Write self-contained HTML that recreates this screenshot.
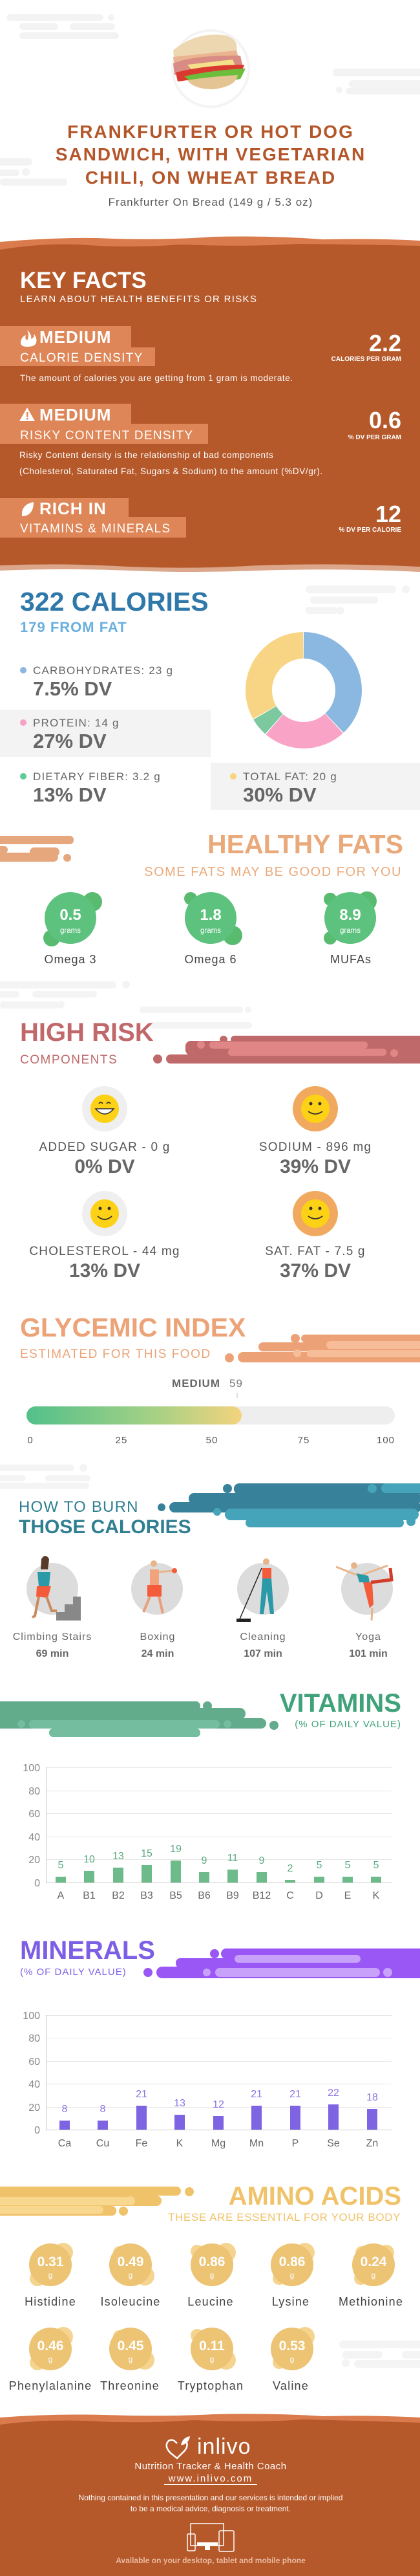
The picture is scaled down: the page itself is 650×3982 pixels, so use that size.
<!DOCTYPE html>
<html><head><meta charset="utf-8"><style>
html,body{margin:0;padding:0;background:#fff}
svg{display:block}
text{font-family:"Liberation Sans",sans-serif}
</style></head><body>
<svg width="650" height="3982" viewBox="0 0 650 3982" xmlns="http://www.w3.org/2000/svg">
<rect width="650" height="3982" fill="#fff"/>
<!-- top clouds -->
<g fill="#f3f3f3">
<rect x="10" y="22" width="150" height="10" rx="5"/><circle cx="172" cy="27" r="5"/>
<rect x="30" y="36" width="60" height="10" rx="5"/><rect x="108" y="36" width="70" height="10" rx="5"/>
<rect x="30" y="50" width="154" height="10" rx="5"/>
<rect x="515" y="106" width="150" height="12" rx="6"/><rect x="540" y="124" width="120" height="12" rx="6"/><circle cx="525" cy="139" r="5"/><rect x="535" y="136" width="120" height="10" rx="5"/>
<rect x="-10" y="244" width="60" height="12" rx="6"/><circle cx="40" cy="266" r="6"/><rect x="-10" y="262" width="40" height="10" rx="5"/><rect x="0" y="276" width="104" height="11" rx="5"/>
</g>
<!-- sandwich -->
<circle cx="326" cy="106" r="61" fill="#f4f4f4"/>
<circle cx="326" cy="106" r="57" fill="#fff"/>
<path d="M268 78 Q300 50 345 54 Q370 58 366 80 L270 96 Z" fill="#ecd7b0"/>
<path d="M268 88 L366 78 L370 92 L270 104 Z" fill="#e9b48f"/>
<path d="M268 98 Q300 85 372 86 L375 100 Q320 108 270 116 Z" fill="#d98c83"/>
<path d="M290 100 L360 92 L365 104 L300 112 Z" fill="#f4e08a"/>
<path d="M272 112 Q320 100 378 100 L374 112 Q320 120 275 126 Z" fill="#d9392e"/>
<path d="M285 118 Q330 108 380 106 L372 122 Q330 130 300 130 Z" fill="#6cbd3b"/>
<path d="M290 124 Q330 118 368 116 Q365 134 330 138 Q300 138 290 124Z" fill="#e5c493"/>
<!-- title -->
<g fill="#b5562a" font-weight="bold" font-size="28" text-anchor="middle" letter-spacing="2">
<text x="326" y="213">FRANKFURTER OR HOT DOG</text>
<text x="326" y="248">SANDWICH, WITH VEGETARIAN</text>
<text x="326" y="284">CHILI, ON WHEAT BREAD</text>
</g>
<text x="326" y="318" font-size="17" fill="#555" text-anchor="middle" letter-spacing="1">Frankfurter On Bread (149 g / 5.3 oz)</text>
<!-- brown band -->
<path d="M0 374 Q80 367 150 368 Q250 372 330 366 Q420 364 500 370 Q580 368 650 372 L650 400 L0 400Z" fill="#d97b4c"/>
<path d="M0 386 Q60 376 120 378 Q200 384 280 378 Q380 382 460 377 Q560 378 650 380 L650 880 L0 880Z" fill="#b5582a"/>
<path d="M0 874 Q100 870 200 876 Q300 880 400 874 Q520 870 650 876 L650 884 Q520 878 400 882 Q300 886 200 882 Q100 878 0 882Z" fill="#dba68a"/>
<text x="31" y="445" font-size="35" font-weight="bold" fill="#fff">KEY FACTS</text>
<text x="31" y="467" font-size="15" fill="#fff" letter-spacing="1.3">LEARN ABOUT HEALTH BENEFITS OR RISKS</text>
<g fill="#de8657">
<rect x="0" y="504" width="203" height="33"/><rect x="0" y="537" width="240" height="29"/>
<rect x="0" y="624" width="203" height="31"/><rect x="0" y="655" width="322" height="31"/>
<rect x="0" y="770" width="199" height="29"/><rect x="0" y="799" width="288" height="32"/>
</g>
<!-- icons -->
<path d="M42 510 Q50 518 48 524 Q54 522 52 516 Q58 522 56 530 Q54 536 42 536 Q31 536 32 528 Q34 520 40 518 Q38 524 42 526 Q46 520 42 510Z" fill="#fff"/>
<path d="M42 630 L54 651 L30 651Z" fill="#fff"/><rect x="41" y="637" width="2.5" height="8" fill="#de8657"/><rect x="41" y="646" width="2.5" height="2.5" fill="#de8657"/>
<path d="M34 798 Q32 780 52 776 Q52 796 36 798Z" fill="#fff"/>
<g fill="#fff" font-weight="bold" font-size="26" letter-spacing="1">
<text x="61" y="530">MEDIUM</text><text x="61" y="650">MEDIUM</text><text x="61" y="795">RICH  IN</text>
</g>
<g fill="#fff" font-size="19" letter-spacing="1.3">
<text x="31" y="559">CALORIE DENSITY</text><text x="31" y="679">RISKY CONTENT DENSITY</text><text x="31" y="823">VITAMINS &amp; MINERALS</text>
</g>
<g fill="#fff" font-weight="bold" text-anchor="end">
<text x="621" y="543" font-size="36">2.2</text><text x="621" y="558" font-size="10">CALORIES PER GRAM</text>
<text x="621" y="662" font-size="36">0.6</text><text x="621" y="679" font-size="10">% DV PER GRAM</text>
<text x="621" y="807" font-size="36">12</text><text x="621" y="822" font-size="10">% DV PER CALORIE</text>
</g>
<g fill="#fff" font-size="13.5" letter-spacing="0.6">
<text x="31" y="589">The amount of calories you are getting from 1 gram is moderate.</text>
<text x="30" y="708">Risky Content density is the relationship of bad components</text>
<text x="30" y="733">(Cholesterol, Saturated Fat, Sugars &amp; Sodium) to the amount (%DV/gr).</text>
</g>
<!-- calories -->
<g fill="#f4f4f4"><rect x="473" y="905" width="140" height="12" rx="6"/><circle cx="628" cy="911" r="6"/><rect x="480" y="922" width="105" height="11" rx="5"/><rect x="473" y="938" width="50" height="11" rx="5"/><circle cx="527" cy="944" r="6"/></g>
<text x="31" y="944" font-size="41" font-weight="bold" fill="#2e78aa">322 CALORIES</text>
<text x="31" y="977" font-size="22" font-weight="bold" fill="#6aafdf" letter-spacing="1">179 FROM FAT</text>
<rect x="0" y="1097" width="326" height="73" fill="#f3f3f3"/>
<rect x="326" y="1179" width="324" height="73" fill="#f3f3f3"/>
<circle cx="36" cy="1036" r="5" fill="#8ab8e0"/><circle cx="36" cy="1117" r="5" fill="#f7a1c4"/><circle cx="36" cy="1200" r="5" fill="#5fcb99"/><circle cx="361" cy="1200" r="5" fill="#f8d47f"/>
<g font-size="17" fill="#666" letter-spacing="1.2">
<text x="51" y="1042">CARBOHYDRATES: 23 g</text><text x="51" y="1123">PROTEIN: 14 g</text><text x="51" y="1206">DIETARY FIBER: 3.2 g</text><text x="376" y="1206">TOTAL FAT: 20 g</text>
</g>
<g font-size="31" font-weight="bold" fill="#666">
<text x="51" y="1075">7.5% DV</text><text x="51" y="1156">27% DV</text><text x="51" y="1239">13% DV</text><text x="376" y="1239">30% DV</text>
</g>
<g transform="rotate(-90 470 1067)" fill="none" stroke-width="41">
<circle cx="470" cy="1067" r="69.5" stroke="#8ab8e0" stroke-dasharray="165.8 500" stroke-dashoffset="0"/>
<circle cx="470" cy="1067" r="69.5" stroke="#f9a3c7" stroke-dasharray="100.7 500" stroke-dashoffset="-166.8"/>
<circle cx="470" cy="1067" r="69.5" stroke="#7cc9a0" stroke-dasharray="22.2 500" stroke-dashoffset="-268.5"/>
<circle cx="470" cy="1067" r="69.5" stroke="#f8d584" stroke-dasharray="144 500" stroke-dashoffset="-291.7"/>
</g>
<!-- healthy fats -->
<g fill="#e6a77c"><rect x="-10" y="1292" width="124" height="13" rx="6"/><rect x="-10" y="1308" width="22" height="11" rx="5"/><rect x="46" y="1310" width="46" height="14" rx="7"/><rect x="-10" y="1318" width="100" height="14" rx="7"/><circle cx="104" cy="1326" r="6"/></g>
<text x="624" y="1319" font-size="41" font-weight="bold" fill="#e9a97b" text-anchor="end">HEALTHY FATS</text>
<text x="622" y="1354" font-size="20" fill="#eba97a" text-anchor="end" letter-spacing="1.5">SOME FATS MAY BE GOOD FOR YOU</text>
<g fill="#58bb6f">
<circle cx="143" cy="1394" r="15"/><circle cx="80" cy="1450" r="13"/>
<circle cx="295" cy="1389" r="10"/><circle cx="360" cy="1446" r="15"/>
<circle cx="568" cy="1393" r="15"/><circle cx="511" cy="1390" r="10"/><circle cx="511" cy="1450" r="10"/>
</g>
<g fill="#5dc27e"><circle cx="109" cy="1419" r="40"/><circle cx="326" cy="1419" r="40"/><circle cx="542" cy="1419" r="40"/></g>
<g fill="#fff" text-anchor="middle"><g font-size="24" font-weight="bold"><text x="109" y="1422">0.5</text><text x="326" y="1422">1.8</text><text x="542" y="1422">8.9</text></g>
<g font-size="11.5"><text x="109" y="1442">grams</text><text x="326" y="1442">grams</text><text x="542" y="1442">grams</text></g></g>
<g font-size="18" fill="#444" text-anchor="middle" letter-spacing="1"><text x="109" y="1489">Omega 3</text><text x="326" y="1489">Omega 6</text><text x="543" y="1489">MUFAs</text></g>
<g fill="#f4f4f4"><rect x="-10" y="1517" width="190" height="11" rx="5"/><circle cx="195" cy="1522" r="6"/><rect x="-10" y="1532" width="40" height="10" rx="5"/><rect x="50" y="1532" width="100" height="10" rx="5"/><rect x="0" y="1548" width="90" height="11" rx="5"/><circle cx="94" cy="1553" r="6"/><rect x="216" y="1556" width="160" height="10" rx="5"/><circle cx="384" cy="1561" r="5"/><rect x="230" y="1580" width="160" height="10" rx="5"/></g>
<!-- high risk -->
<g fill="#c0696b"><rect x="357" y="1601" width="300" height="13" rx="6"/><circle cx="346" cy="1607" r="6"/><rect x="287" y="1609" width="370" height="22" rx="8"/><rect x="257" y="1630" width="400" height="14" rx="7"/><circle cx="244" cy="1637" r="7"/></g>
<g fill="#e08686"><rect x="324" y="1610" width="245" height="11" rx="5"/><circle cx="311" cy="1615" r="6"/><rect x="353" y="1621" width="245" height="11" rx="5"/><circle cx="610" cy="1628" r="6"/></g>
<text x="31" y="1609" font-size="40" font-weight="bold" fill="#c0686a">HIGH RISK</text>
<text x="31" y="1644" font-size="19" fill="#c0686a" letter-spacing="1.5">COMPONENTS</text>
<!-- smileys -->
<circle cx="162" cy="1714" r="35" fill="#efefef"/><circle cx="488" cy="1714" r="35" fill="#f1a95f"/>
<circle cx="162" cy="1876" r="35" fill="#efefef"/><circle cx="488" cy="1876" r="35" fill="#f1a95f"/>
<g fill="#fcd116"><circle cx="162" cy="1714" r="22"/><circle cx="488" cy="1714" r="22"/><circle cx="162" cy="1876" r="22"/><circle cx="488" cy="1876" r="22"/></g>
<g fill="#333"><circle cx="155" cy="1868" r="2.5"/><circle cx="169" cy="1868" r="2.5"/><circle cx="481" cy="1706" r="2.5"/><circle cx="495" cy="1706" r="2.5"/><circle cx="481" cy="1868" r="2.5"/><circle cx="495" cy="1868" r="2.5"/></g>
<g fill="none" stroke="#333" stroke-width="1.8"><path d="M151 1880 Q162 1890 173 1880"/><path d="M477 1718 Q488 1726 499 1718"/><path d="M477 1880 Q488 1888 499 1880"/><path d="M153 1706 q3 -4 6 0 M165 1706 q3 -4 6 0"/></g>
<path d="M148 1714 Q162 1730 176 1714Z" fill="#fff" stroke="#333" stroke-width="1.5"/>
<g font-size="19" fill="#555" text-anchor="middle" letter-spacing="1.2"><text x="162" y="1779">ADDED SUGAR - 0 g</text><text x="488" y="1779">SODIUM - 896 mg</text><text x="162" y="1940">CHOLESTEROL - 44 mg</text><text x="488" y="1940">SAT. FAT - 7.5 g</text></g>
<g font-size="30" font-weight="bold" fill="#666" text-anchor="middle"><text x="162" y="1813">0% DV</text><text x="488" y="1813">39% DV</text><text x="162" y="1974">13% DV</text><text x="488" y="1974">37% DV</text></g>
<!-- glycemic -->
<g fill="#eca276"><rect x="466" y="2063" width="200" height="12" rx="6"/><circle cx="457" cy="2069" r="7"/><rect x="400" y="2075" width="260" height="14" rx="7"/><rect x="368" y="2090" width="290" height="16" rx="8"/><circle cx="355" cy="2099" r="7"/></g>
<g fill="#f6bd98"><rect x="505" y="2073" width="150" height="12" rx="6"/><circle cx="460" cy="2092" r="6"/><rect x="475" y="2087" width="180" height="11" rx="5"/></g>
<text x="31" y="2066" font-size="41" font-weight="bold" fill="#eca378">GLYCEMIC INDEX</text>
<text x="31" y="2099" font-size="19" fill="#eca378" letter-spacing="1.5">ESTIMATED FOR THIS FOOD</text>
<text x="341" y="2144" font-size="17" font-weight="bold" fill="#666" text-anchor="end" letter-spacing="1">MEDIUM</text>
<text x="355" y="2144" font-size="17" fill="#777" letter-spacing="1">59</text>
<rect x="366.5" y="2153" width="1" height="8" fill="#bbb"/>
<defs><linearGradient id="gi" x1="0" x2="1"><stop offset="0" stop-color="#52c08a"/><stop offset="0.6" stop-color="#a6d185"/><stop offset="1" stop-color="#f3d37e"/></linearGradient></defs>
<rect x="41" y="2174" width="570" height="28" rx="14" fill="#eeeeee"/>
<rect x="41" y="2174" width="333" height="28" rx="14" fill="url(#gi)"/>
<g font-size="15" fill="#555" text-anchor="middle" letter-spacing="1"><text x="47" y="2231">0</text><text x="188" y="2231">25</text><text x="328" y="2231">50</text><text x="470" y="2231">75</text><text x="597" y="2231">100</text></g>
<!-- burn -->
<g fill="#f4f4f4"><rect x="-10" y="2264" width="125" height="10" rx="5"/><circle cx="129" cy="2269" r="6"/><rect x="-10" y="2280" width="50" height="10" rx="5"/><rect x="70" y="2280" width="70" height="10" rx="5"/><rect x="-10" y="2292" width="148" height="10" rx="5"/></g>
<g fill="#38819a"><rect x="362" y="2293" width="300" height="17" rx="8"/><circle cx="352" cy="2301" r="7"/><rect x="292" y="2308" width="360" height="17" rx="8"/><rect x="262" y="2322" width="390" height="16" rx="8"/><circle cx="250" cy="2330" r="6"/></g>
<g fill="#45a4b9"><rect x="590" y="2293" width="70" height="15" rx="7"/><circle cx="576" cy="2301" r="7"/><rect x="348" y="2332" width="300" height="18" rx="9"/><circle cx="336" cy="2337" r="6"/><rect x="380" y="2347" width="245" height="14" rx="7"/><circle cx="636" cy="2352" r="7"/></g>
<text x="29" y="2337" font-size="24" fill="#2f7f91" letter-spacing="1.2">HOW TO BURN</text>
<text x="29" y="2370" font-size="30" font-weight="bold" fill="#2f7f91">THOSE CALORIES</text>
<g fill="#dcdcdc"><circle cx="81" cy="2456" r="40"/><circle cx="243" cy="2456" r="40"/><circle cx="407" cy="2456" r="40"/><circle cx="568" cy="2456" r="40"/></g>
<!-- stairs -->
<path d="M43 2505 L125 2505 L125 2468 L113 2468 L113 2480 L100 2480 L100 2492 L87 2492 L87 2505Z" fill="#888"/>
<circle cx="70" cy="2414" r="6" fill="#e8b48a"/><path d="M64 2410 Q70 2400 76 2410 L74 2426 L63 2426Z" fill="#5a3b2a"/>
<path d="M58 2430 L78 2430 L76 2452 L60 2452Z" fill="#2a9aa8"/><path d="M57 2452 L79 2452 L74 2470 L56 2468Z" fill="#f45b3a"/>
<path d="M60 2468 L54 2498 L50 2500 M72 2468 L80 2490 L88 2490" stroke="#c98a5e" stroke-width="4" fill="none"/>
<!-- boxing -->
<circle cx="238" cy="2417" r="5" fill="#e8b48a"/><path d="M232 2426 L246 2426 L246 2450 L232 2450Z" fill="#f3a37c"/><path d="M246 2430 L268 2428" stroke="#e8b48a" stroke-width="3"/><circle cx="270" cy="2428" r="4" fill="#f45b3a"/>
<path d="M228 2450 L250 2450 L250 2468 L228 2468Z" fill="#f45b3a"/><path d="M232 2468 L222 2492 M246 2468 L252 2494" stroke="#e8a07a" stroke-width="4"/>
<!-- cleaning -->
<circle cx="412" cy="2414" r="5" fill="#e8b48a"/><path d="M406 2424 L420 2424 L420 2446 L406 2446Z" fill="#f45b3a"/><path d="M406 2440 L420 2440 L424 2495 L418 2495 L413 2460 L408 2495 L402 2495Z" fill="#2a9aa8"/>
<path d="M405 2424 L370 2505" stroke="#222" stroke-width="1.5"/><rect x="366" y="2502" width="22" height="5" fill="#222"/>
<!-- yoga -->
<circle cx="548" cy="2420" r="5" fill="#e8b48a"/><path d="M520 2422 L556 2436 L600 2420" stroke="#e8b48a" stroke-width="3" fill="none"/><path d="M552 2432 L570 2436 L572 2446 L556 2446Z" fill="#2a9aa8"/><path d="M562 2446 L576 2446 L578 2480 L572 2486Z" fill="#f45b3a"/><path d="M574 2446 L606 2442 L604 2424" stroke="#d33b2a" stroke-width="5" fill="none"/><path d="M576 2486 L575 2505" stroke="#e8b48a" stroke-width="3"/>
<g font-size="16" fill="#666" text-anchor="middle" letter-spacing="1"><text x="81" y="2535">Climbing Stairs</text><text x="244" y="2535">Boxing</text><text x="407" y="2535">Cleaning</text><text x="570" y="2535">Yoga</text></g>
<g font-size="16" font-weight="bold" fill="#666" text-anchor="middle"><text x="81" y="2561">69 min</text><text x="244" y="2561">24 min</text><text x="407" y="2561">107 min</text><text x="570" y="2561">101 min</text></g>
<!-- vitamins -->
<g fill="#62ab8b"><rect x="-10" y="2630" width="320" height="14" rx="7"/><circle cx="321" cy="2637" r="7"/><rect x="-10" y="2640" width="390" height="18" rx="9"/><rect x="-10" y="2656" width="422" height="16" rx="8"/><circle cx="424" cy="2667" r="7"/></g>
<g fill="#74bd9f"><circle cx="33" cy="2665" r="6"/><rect x="45" y="2659" width="295" height="13" rx="6"/><circle cx="352" cy="2665" r="6"/><rect x="76" y="2672" width="234" height="13" rx="6"/></g>
<text x="621" y="2646" font-size="40" font-weight="bold" fill="#3fa27a" text-anchor="end">VITAMINS</text>
<text x="621" y="2670" font-size="15" fill="#3fa27a" text-anchor="end" letter-spacing="1">(% OF DAILY VALUE)</text>
<g stroke="#e6e6e6" stroke-width="1"><line x1="71" x2="606" y1="2732.5" y2="2732.5"/><line x1="71" x2="606" y1="2768.5" y2="2768.5"/><line x1="71" x2="606" y1="2803.5" y2="2803.5"/><line x1="71" x2="606" y1="2839.5" y2="2839.5"/><line x1="71" x2="606" y1="2874.5" y2="2874.5"/></g>
<line x1="71" x2="606" y1="2910.5" y2="2910.5" stroke="#ccc"/><line x1="71.5" x2="71.5" y1="2732" y2="2910" stroke="#ccc"/>
<g font-size="16" fill="#888" text-anchor="end"><text x="62" y="2738">100</text><text x="62" y="2774">80</text><text x="62" y="2809">60</text><text x="62" y="2845">40</text><text x="62" y="2880">20</text><text x="62" y="2916">0</text></g>
<g fill="#6dbb8a">
<rect x="86" y="2901" width="16" height="9"/><rect x="130" y="2892" width="16" height="18"/><rect x="175" y="2887" width="16" height="23"/><rect x="219" y="2883" width="16" height="27"/><rect x="264" y="2876" width="16" height="34"/><rect x="308" y="2894" width="16" height="16"/><rect x="352" y="2890" width="16" height="20"/><rect x="397" y="2894" width="16" height="16"/><rect x="441" y="2906" width="16" height="4"/><rect x="486" y="2901" width="16" height="9"/><rect x="530" y="2901" width="16" height="9"/><rect x="574" y="2901" width="16" height="9"/>
</g>
<g font-size="16" fill="#5aaa80" text-anchor="middle"><text x="94" y="2888">5</text><text x="138" y="2879">10</text><text x="183" y="2874">13</text><text x="227" y="2870">15</text><text x="272" y="2863">19</text><text x="316" y="2881">9</text><text x="360" y="2877">11</text><text x="405" y="2881">9</text><text x="449" y="2893">2</text><text x="494" y="2888">5</text><text x="538" y="2888">5</text><text x="582" y="2888">5</text></g>
<g font-size="16" fill="#666" text-anchor="middle"><text x="94" y="2935">A</text><text x="138" y="2935">B1</text><text x="183" y="2935">B2</text><text x="227" y="2935">B3</text><text x="272" y="2935">B5</text><text x="316" y="2935">B6</text><text x="360" y="2935">B9</text><text x="405" y="2935">B12</text><text x="449" y="2935">C</text><text x="494" y="2935">D</text><text x="538" y="2935">E</text><text x="582" y="2935">K</text></g>
<!-- minerals -->
<g fill="#9a57f5"><rect x="342" y="3012" width="320" height="16" rx="8"/><circle cx="332" cy="3020" r="7"/><rect x="272" y="3027" width="390" height="15" rx="7"/><rect x="242" y="3040" width="420" height="18" rx="9"/><circle cx="229" cy="3049" r="7"/></g>
<g fill="#c8a1fa"><rect x="363" y="3022" width="195" height="12" rx="6"/><rect x="333" y="3042" width="255" height="14" rx="7"/><circle cx="320" cy="3049" r="6"/><circle cx="600" cy="3049" r="7"/></g>
<text x="31" y="3028" font-size="40" font-weight="bold" fill="#7d5fe6">MINERALS</text>
<text x="31" y="3053" font-size="15" fill="#7d5fe6" letter-spacing="1">(% OF DAILY VALUE)</text>
<g stroke="#e6e6e6" stroke-width="1"><line x1="71" x2="606" y1="3115.5" y2="3115.5"/><line x1="71" x2="606" y1="3150.5" y2="3150.5"/><line x1="71" x2="606" y1="3186.5" y2="3186.5"/><line x1="71" x2="606" y1="3221.5" y2="3221.5"/><line x1="71" x2="606" y1="3257.5" y2="3257.5"/></g>
<line x1="71" x2="606" y1="3292.5" y2="3292.5" stroke="#ccc"/><line x1="71.5" x2="71.5" y1="3115" y2="3292" stroke="#ccc"/>
<g font-size="16" fill="#888" text-anchor="end"><text x="62" y="3121">100</text><text x="62" y="3156">80</text><text x="62" y="3192">60</text><text x="62" y="3227">40</text><text x="62" y="3263">20</text><text x="62" y="3298">0</text></g>
<g fill="#7e64e2">
<rect x="92" y="3278" width="16" height="14"/><rect x="151" y="3278" width="16" height="14"/><rect x="211" y="3255" width="16" height="37"/><rect x="270" y="3269" width="16" height="23"/><rect x="330" y="3271" width="16" height="21"/><rect x="389" y="3255" width="16" height="37"/><rect x="449" y="3255" width="16" height="37"/><rect x="508" y="3253" width="16" height="39"/><rect x="568" y="3260" width="16" height="32"/>
</g>
<g font-size="16" fill="#8d72e6" text-anchor="middle"><text x="100" y="3265">8</text><text x="159" y="3265">8</text><text x="219" y="3242">21</text><text x="278" y="3256">13</text><text x="338" y="3258">12</text><text x="397" y="3242">21</text><text x="457" y="3242">21</text><text x="516" y="3240">22</text><text x="576" y="3247">18</text></g>
<g font-size="16" fill="#666" text-anchor="middle"><text x="100" y="3318">Ca</text><text x="159" y="3318">Cu</text><text x="219" y="3318">Fe</text><text x="278" y="3318">K</text><text x="338" y="3318">Mg</text><text x="397" y="3318">Mn</text><text x="457" y="3318">P</text><text x="516" y="3318">Se</text><text x="576" y="3318">Zn</text></g>
<!-- amino -->
<g fill="#f0c36a"><rect x="-10" y="3380" width="290" height="14" rx="7"/><circle cx="293" cy="3388" r="7"/><rect x="-10" y="3394" width="260" height="16" rx="8"/><rect x="-10" y="3410" width="190" height="15" rx="7"/><circle cx="191" cy="3418" r="7"/></g>
<g fill="#f8d78e"><rect x="-10" y="3396" width="210" height="13" rx="6"/><circle cx="202" cy="3402" r="7"/><rect x="-10" y="3410" width="170" height="12" rx="6"/></g>
<text x="621" y="3408" font-size="40" font-weight="bold" fill="#f0c36a" text-anchor="end">AMINO ACIDS</text>
<text x="620" y="3433" font-size="17" fill="#f0c36a" text-anchor="end" letter-spacing="0.6">THESE ARE ESSENTIAL FOR YOUR BODY</text>
<g fill="#f5d48f">
<circle cx="98" cy="3482" r="15"/><circle cx="58" cy="3522" r="12"/><circle cx="185" cy="3482" r="10"/><circle cx="224" cy="3518" r="15"/><circle cx="305" cy="3480" r="10"/><circle cx="350" cy="3482" r="15"/><circle cx="472" cy="3482" r="15"/><circle cx="432" cy="3522" r="10"/><circle cx="560" cy="3482" r="10"/><circle cx="598" cy="3482" r="12"/><circle cx="558" cy="3522" r="10"/>
<circle cx="98" cy="3612" r="15"/><circle cx="58" cy="3652" r="12"/><circle cx="185" cy="3612" r="10"/><circle cx="224" cy="3648" r="15"/><circle cx="305" cy="3610" r="10"/><circle cx="350" cy="3648" r="15"/><circle cx="472" cy="3612" r="15"/><circle cx="432" cy="3652" r="10"/>
</g>
<g fill="#edc374"><circle cx="78" cy="3501" r="33"/><circle cx="202" cy="3501" r="33"/><circle cx="328" cy="3501" r="33"/><circle cx="452" cy="3501" r="33"/><circle cx="578" cy="3501" r="33"/><circle cx="78" cy="3631" r="33"/><circle cx="202" cy="3631" r="33"/><circle cx="328" cy="3631" r="33"/><circle cx="452" cy="3631" r="33"/></g>
<g fill="#fff" text-anchor="middle" font-size="21" font-weight="bold"><text x="78" y="3503">0.31</text><text x="202" y="3503">0.49</text><text x="328" y="3503">0.86</text><text x="452" y="3503">0.86</text><text x="578" y="3503">0.24</text><text x="78" y="3633">0.46</text><text x="202" y="3633">0.45</text><text x="328" y="3633">0.11</text><text x="452" y="3633">0.53</text></g>
<g fill="#fff" text-anchor="middle" font-size="12"><text x="78" y="3521">g</text><text x="202" y="3521">g</text><text x="328" y="3521">g</text><text x="452" y="3521">g</text><text x="578" y="3521">g</text><text x="78" y="3651">g</text><text x="202" y="3651">g</text><text x="328" y="3651">g</text><text x="452" y="3651">g</text></g>
<g font-size="18" fill="#444" text-anchor="middle" letter-spacing="1.2"><text x="78" y="3564">Histidine</text><text x="202" y="3564">Isoleucine</text><text x="326" y="3564">Leucine</text><text x="450" y="3564">Lysine</text><text x="574" y="3564">Methionine</text><text x="78" y="3694">Phenylalanine</text><text x="201" y="3694">Threonine</text><text x="326" y="3694">Tryptophan</text><text x="450" y="3694">Valine</text></g>
<g fill="#f4f4f4"><rect x="525" y="3618" width="140" height="12" rx="6"/><rect x="530" y="3634" width="62" height="12" rx="6"/><rect x="622" y="3634" width="40" height="12" rx="6"/><circle cx="535" cy="3653" r="6"/><rect x="548" y="3648" width="110" height="12" rx="6"/></g>
<!-- footer -->
<path d="M0 3737 Q80 3731 160 3733 Q260 3736 330 3732 Q420 3730 500 3735 Q580 3733 650 3737 L650 3760 L0 3760Z" fill="#d97b4c"/>
<path d="M0 3748 Q60 3740 130 3742 Q220 3747 300 3741 Q400 3745 470 3740 Q560 3742 650 3745 L650 3982 L0 3982Z" fill="#b5582a"/>
<path d="M274 3777 Q266 3768 260 3774 Q254 3782 264 3792 L274 3800 L286 3788 Q292 3780 288 3774" fill="none" stroke="#fff" stroke-width="2.5"/>
<path d="M280 3780 Q282 3768 294 3766 Q292 3778 280 3780Z" fill="#fff"/>
<text x="305" y="3793" font-size="34" fill="#fff" letter-spacing="1">inlivo</text>
<text x="326" y="3817" font-size="15" fill="#fff" text-anchor="middle" letter-spacing="0.5">Nutrition Tracker &amp; Health Coach</text>
<text x="326" y="3836" font-size="15" fill="#fff" text-anchor="middle" letter-spacing="2">www.inlivo.com</text>
<rect x="254" y="3840" width="144" height="1" fill="#fff"/>
<g font-size="12" fill="#fff" text-anchor="middle"><text x="326" y="3865">Nothing contained in this presentation and our services is intended or implied</text><text x="326" y="3882">to be a medical advice, diagnosis or treatment.</text></g>
<g fill="none" stroke="#fff" stroke-width="1.5"><rect x="295" y="3901" width="51" height="34"/><rect x="290" y="3917" width="12" height="26" rx="1.5"/><rect x="339" y="3912" width="23" height="32" rx="2"/></g>
<rect x="305" y="3930" width="32" height="5" fill="#fff"/><rect x="317" y="3935" width="8" height="7" fill="#fff"/>
<text x="326" y="3962" font-size="12" font-weight="bold" fill="#e9b9a0" text-anchor="middle">Available on your desktop, tablet and mobile phone</text>
</svg>
</body></html>
